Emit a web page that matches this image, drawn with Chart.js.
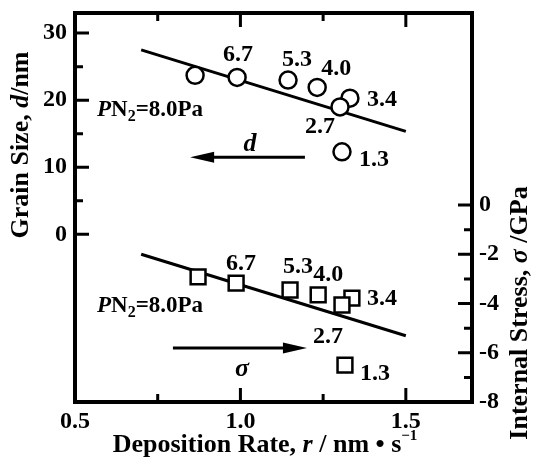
<!DOCTYPE html>
<html>
<head>
<meta charset="utf-8">
<script src="https://cdn.jsdelivr.net/npm/chart.js@4/dist/chart.umd.min.js"></script>
<style>
html,body{margin:0;padding:0;background:#fff;}
#wrap{width:535px;height:466px;}
</style>
</head>
<body>
<div id="wrap"><canvas id="c" width="535" height="466"></canvas></div>
<script>
// ---- data ----
const rateD = [0.863, 0.990, 1.144, 1.232, 1.331, 1.301, 1.307];
const grainSize = [23.7, 23.4, 23.0, 21.9, 20.3, 19.0, 12.3];
const rateS = [0.872, 0.987, 1.150, 1.235, 1.337, 1.307, 1.316];
const stress = [-2.92, -3.17, -3.45, -3.65, -3.78, -4.06, -6.50];
const pointLabels = ['', '6.7', '5.3', '4.0', '3.4', '2.7', '1.3'];
const fitRate = [0.7, 1.5];
const fitGrain = [27.5, 15.35];
const fitStress = [-2.0, -5.31];
const xTicks = [0.5, 1.0, 1.5];
const xMinor = [0.75, 1.25];
const yTicks = [0, 10, 20, 30];
const yMinor = [5, 15, 25];
const y2Ticks = [-8, -6, -4, -2, 0];
const y2Minor = [-7, -5, -3, -1];
const arrowD = { from: 1.195, to: 0.848, at: 11.5 };
const arrowS = { from: 0.796, to: 1.201, at: -5.81 };

// ---- label placement (pixel offsets from points) ----
const offD = [null, [1,-24], [9,-22], [19,-20], [32,0], [-20,18], [32,6]];
const offS = [null, [5,-21], [8,-25], [10,-22], [30,-1], [-14,30], [30,7]];

const FAM = '"Liberation Serif", "Times New Roman", serif';
const f = (size, style) => (style || 'bold') + ' ' + size + 'px ' + FAM;

function drawRich(ctx, segs, x, y, rot, align) {
  ctx.save();
  ctx.translate(x, y);
  ctx.rotate(rot || 0);
  ctx.textBaseline = 'alphabetic';
  ctx.textAlign = 'left';
  let total = 0;
  segs.forEach(s => { ctx.font = s.font; s.w = ctx.measureText(s.t).width; total += s.w; });
  let cx = align === 'left' ? 0 : -total / 2;
  segs.forEach(s => { ctx.font = s.font; ctx.fillText(s.t, cx, s.dy || 0); cx += s.w; });
  ctx.restore();
}

const decor = {
  id: 'decor',
  afterDatasetsDraw(chart) {
    const ctx = chart.ctx;
    const a = chart.chartArea;
    const sx = chart.scales.x, sy = chart.scales.y, sy2 = chart.scales.y2;
    ctx.save();
    ctx.strokeStyle = '#000';
    ctx.fillStyle = '#000';
    // ticks (inward)
    ctx.lineWidth = 3;
    ctx.beginPath();
    const hx = (v, len) => {
      const p = sx.getPixelForValue(v);
      ctx.moveTo(p, a.bottom); ctx.lineTo(p, a.bottom - len);
      ctx.moveTo(p, a.top); ctx.lineTo(p, a.top + len);
    };
    xTicks.forEach(v => hx(v, 14));
    xMinor.forEach(v => hx(v, 8));
    yTicks.forEach(v => { const p = sy.getPixelForValue(v); ctx.moveTo(a.left, p); ctx.lineTo(a.left + 14, p); });
    yMinor.forEach(v => { const p = sy.getPixelForValue(v); ctx.moveTo(a.left, p); ctx.lineTo(a.left + 8, p); });
    y2Ticks.forEach(v => { const p = sy2.getPixelForValue(v); ctx.moveTo(a.right, p); ctx.lineTo(a.right - 14, p); });
    y2Minor.forEach(v => { const p = sy2.getPixelForValue(v); ctx.moveTo(a.right, p); ctx.lineTo(a.right - 8, p); });
    ctx.stroke();
    // frame
    ctx.lineWidth = 4;
    ctx.strokeRect(a.left, a.top, a.right - a.left, a.bottom - a.top);

    // arrows
    const arrow = (x0, x1, y) => {
      ctx.lineWidth = 3;
      const dir = Math.sign(x1 - x0);
      ctx.beginPath();
      ctx.moveTo(x0, y); ctx.lineTo(x1 - dir * 20, y);
      ctx.stroke();
      ctx.beginPath();
      ctx.moveTo(x1, y);
      ctx.lineTo(x1 - dir * 24, y - 5.5);
      ctx.lineTo(x1 - dir * 24, y + 5.5);
      ctx.closePath();
      ctx.fill();
    };
    arrow(sx.getPixelForValue(arrowD.from), sx.getPixelForValue(arrowD.to), sy.getPixelForValue(arrowD.at));
    arrow(sx.getPixelForValue(arrowS.from), sx.getPixelForValue(arrowS.to), sy2.getPixelForValue(arrowS.at));

    // point labels
    ctx.font = f(24);
    ctx.textAlign = 'center';
    ctx.textBaseline = 'alphabetic';
    pointLabels.forEach((t, i) => {
      if (!t) return;
      const px = sx.getPixelForValue(rateD[i]), py = sy.getPixelForValue(grainSize[i]);
      ctx.fillText(t, px + offD[i][0], py + offD[i][1] + 8);
      const qx = sx.getPixelForValue(rateS[i]), qy = sy2.getPixelForValue(stress[i]);
      ctx.fillText(t, qx + offS[i][0], qy + offS[i][1] + 8);
    });

    // PN2 labels
    const pn = [
      { t: 'P', font: f(23, 'italic bold') },
      { t: 'N', font: f(23) },
      { t: '2', font: f(16), dy: 5 },
      { t: '=8.0Pa', font: f(23) }
    ];
    drawRich(ctx, pn, a.left + 22, sy.getPixelForValue(18.8) + 7.5, 0, 'left');
    drawRich(ctx, pn, a.left + 22, sy2.getPixelForValue(-4.06) + 7.5, 0, 'left');

    // d and sigma
    ctx.font = f(26, 'italic bold');
    ctx.textAlign = 'center';
    ctx.fillText('d', sx.getPixelForValue(1.029), sy.getPixelForValue(13.7) + 9);
    ctx.fillText('σ', sx.getPixelForValue(1.005), sy2.getPixelForValue(-6.72) + 6);

    // axis titles
    drawRich(ctx, [
      { t: 'Deposition Rate, ', font: f(26) },
      { t: 'r', font: f(26, 'italic bold') },
      { t: ' / nm \u2022 s', font: f(26) },
      { t: '\u22121', font: f(15), dy: -12 }
    ], 265, 452, 0);
    drawRich(ctx, [
      { t: 'Grain Size, ', font: f(26) },
      { t: 'd', font: f(26, 'italic bold') },
      { t: '/nm', font: f(26) }
    ], 28, 145, -Math.PI / 2);
    drawRich(ctx, [
      { t: 'Internal Stress, ', font: f(26) },
      { t: 'σ', font: f(26, 'italic bold') },
      { t: ' /GPa', font: f(26) }
    ], 527, 313, -Math.PI / 2);
    ctx.restore();
  }
};

const tickFont = { family: FAM, weight: 'bold', size: 24 };
const noPad = s => { s.paddingTop = 0; s.paddingBottom = 0; s.paddingLeft = 0; s.paddingRight = 0; };

new Chart(document.getElementById('c'), {
  type: 'scatter',
  data: {
    datasets: [
      { label: 'fitD', data: fitRate.map((x, i) => ({ x, y: fitGrain[i] })), yAxisID: 'y', showLine: true,
        borderColor: '#000', borderWidth: 3, pointRadius: 0, order: 2 },
      { label: 'fitS', data: fitRate.map((x, i) => ({ x, y: fitStress[i] })), yAxisID: 'y2', showLine: true,
        borderColor: '#000', borderWidth: 3, pointRadius: 0, order: 2 },
      { label: 'd', data: rateD.map((x, i) => ({ x, y: grainSize[i] })), yAxisID: 'y',
        pointStyle: 'circle', pointRadius: 8.5, borderColor: '#000', borderWidth: 2.5, backgroundColor: '#fff', order: 1 },
      { label: 'sigma', data: rateS.map((x, i) => ({ x, y: stress[i] })), yAxisID: 'y2',
        pointStyle: 'rect', pointRadius: 10.5, borderColor: '#000', borderWidth: 2.5, backgroundColor: '#fff', order: 1 }
    ]
  },
  options: {
    responsive: false,
    animation: false,
    events: [],
    layout: { padding: { top: 13, left: 0, right: 0, bottom: 0 } },
    plugins: { legend: { display: false }, tooltip: { enabled: false } },
    scales: {
      x: {
        type: 'linear', min: 0.5, max: 1.7, position: 'bottom',
        grid: { display: false, drawTicks: false }, border: { display: false },
        afterBuildTicks: s => { s.ticks = xTicks.map(v => ({ value: v })); },
        afterFit: s => { s.height = 64; noPad(s); },
        ticks: { font: tickFont, color: '#000', padding: 5, maxRotation: 0, autoSkip: false,
                 callback: v => v.toFixed(1) }
      },
      y: {
        type: 'linear', min: -25, max: 33, position: 'left',
        grid: { display: false, drawTicks: false }, border: { display: false },
        afterBuildTicks: s => { s.ticks = yTicks.map(v => ({ value: v })); },
        afterFit: s => { s.width = 75; noPad(s); },
        ticks: { font: tickFont, color: '#000', padding: 8, autoSkip: false }
      },
      y2: {
        type: 'linear', min: -8, max: 7.8, position: 'right',
        grid: { display: false, drawTicks: false }, border: { display: false },
        afterBuildTicks: s => { s.ticks = y2Ticks.map(v => ({ value: v })); },
        afterFit: s => { s.width = 63; noPad(s); },
        ticks: { font: tickFont, color: '#000', padding: 7, autoSkip: false }
      }
    }
  },
  plugins: [decor]
});
</script>
</body>
</html>
